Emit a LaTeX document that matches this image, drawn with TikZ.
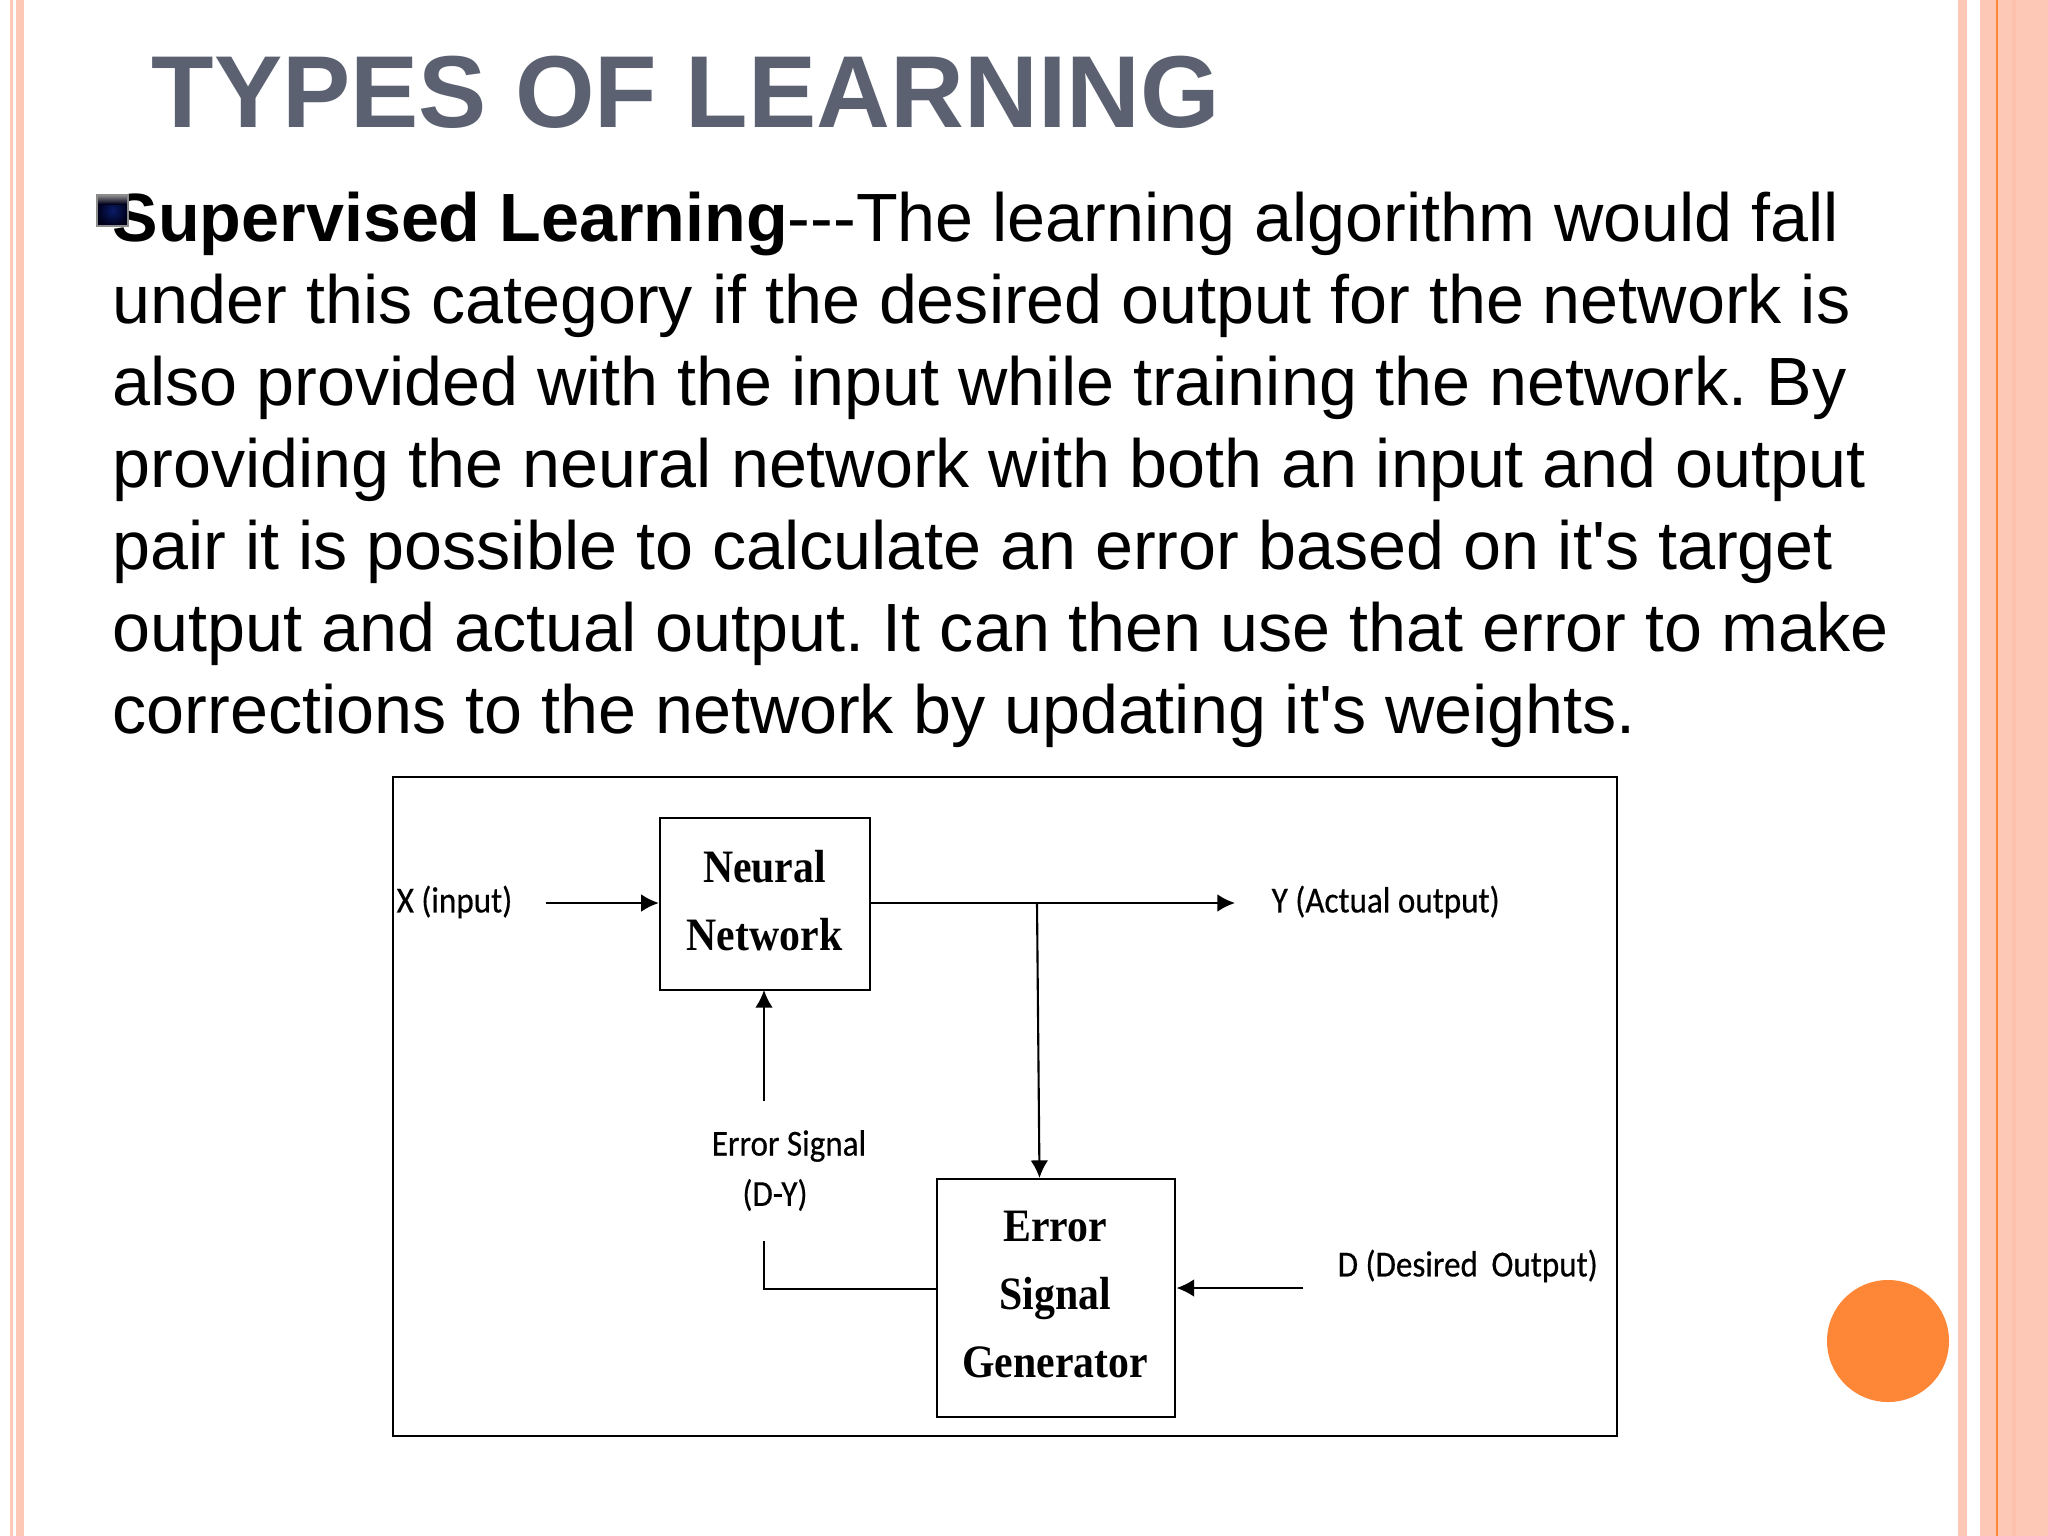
\documentclass[tikz,border=0pt]{standalone}
\usepackage{fontspec}
\setmainfont[Ligatures=TeXOff]{Liberation Sans}
\newfontfamily\labelfont[FakeStretch=0.905,FakeBold=0.5]{Carlito}
\newfontfamily\boxfont[FakeStretch=0.9]{Liberation Serif}
\usetikzlibrary{arrows.meta}
\definecolor{peach}{HTML}{FDC8B6}
\definecolor{peachdark}{HTML}{FCC0AB}
\definecolor{orangeline}{HTML}{FD8637}
\definecolor{titlegray}{HTML}{5B6170}
\definecolor{bulletblue}{HTML}{0A1C66}
\tikzset{
  x=0.01cm,y=-0.01cm,
  bodyline/.style={anchor=base west,inner sep=0pt,font=\frenchspacing\fontsize{19.41}{23}\selectfont,text=black},
  blockbox/.style={draw=black,line width=0.7pt,fill=white,inner sep=0pt},
  blocktext/.style={inner sep=0pt,align=center,font=\boxfont\bfseries\fontsize{13.2}{19.3}\selectfont},
  lab/.style={inner sep=0pt,font=\labelfont\fontsize{10.4}{12}\selectfont,text=black},
  wire/.style={draw=black,line width=0.6pt},
  arrowwire/.style={wire,-{Latex[length=5pt,width=5pt]}},
}
\begin{document}
\begin{tikzpicture}
\useasboundingbox (0,0) rectangle (2048,1536);
\fill[white] (0,0) rectangle (2048,1536);
% side stripes
\fill[peach] (10,0) rectangle (13,1536);
\fill[peach] (16,0) rectangle (24,1536);
\fill[peach] (1958,0) rectangle (1967,1536);
\fill[peach] (1980,0) rectangle (2048,1536);
\fill[peachdark] (2012,0) rectangle (2016,1536);
\fill[orangeline] (1996,0) rectangle (1998,1536);
\fill[orangeline] (1888,1341) circle (61);
% title
\node[anchor=base west,inner sep=0pt,font=\bfseries\fontsize{29.08}{34}\selectfont,text=titlegray] (title) at (151,127) {TYPES OF LEARNING};
% body
\node[bodyline] (l1) at (112,241) {\textbf{Supervised Learning}---The learning algorithm would fall};
\node[bodyline] (l2) at (112,323) {under this category if the desired output for the network is};
\node[bodyline] (l3) at (112,405) {also provided with the input while training the network. By};
\node[bodyline] (l4) at (112,487) {providing the neural network with both an input and output};
\node[bodyline] (l5) at (112,569) {pair it is possible to calculate an error based on it's target};
\node[bodyline] (l6) at (112,651) {output and actual output. It can then use that error to make};
\node[bodyline] (l7) at (112,733) {corrections to the network by updating it's weights.};
% bullet
\shade[inner color=bulletblue,outer color=black!90!blue] (97,195) rectangle (128,226);
\shade[top color=black!45,bottom color=black!90!blue] (97,195) rectangle (128,204);
\draw[black!45,line width=0.3pt] (97,195) rectangle (128,226);
% diagram frame
\node[blockbox,minimum width=348.2pt,minimum height=187.4pt] (frame) at (1005,1106.5) {};
% blocks
\node[blockbox,minimum width=59.7pt,minimum height=48.9pt] (nn) at (765,904) {};
\node[blocktext] (nntext) at (764.5,901) {Neural\\Network};
\node[blockbox,minimum width=67.8pt,minimum height=67.6pt] (esg) at (1056,1298) {};
\node[blocktext] (esgtext) at (1055,1294.5) {Error\\Signal\\Generator};
% labels
\node[lab,anchor=west] (xin) at (396,902) {X (input)};
\node[lab,anchor=west] (yout) at (1271,902) {Y (Actual output)};
\node[lab] (errsig) at (789,1146) {Error Signal};
\node[lab] (dy) at (775,1195) {(D-Y)};
\node[lab,anchor=west] (dout) at (1337,1266) {D (Desired\, Output)};
% connectors
\coordinate (xstart) at (546,903);
\coordinate (yend) at (1235,903);
\coordinate (branch) at (1037,903);
\coordinate (esgtop) at (1039.5,1178);
\coordinate (upstart) at (764,1101);
\coordinate (nnbot) at (764,990);
\coordinate (lowstart) at (764,1241);
\coordinate (lowcorner) at (764,1289);
\coordinate (dstart) at (1303,1288);
\draw[arrowwire] (xstart) -- (nn.west |- xstart);
\draw[arrowwire] (nn.east |- yend) -- (yend);
\draw[arrowwire] (branch) -- (esgtop);
\draw[arrowwire] (upstart) -- (nnbot);
\draw[wire] (lowstart) -- (lowcorner) -- (esg.west |- lowcorner);
\draw[arrowwire] (dstart) -- (esg.east |- dstart);
\end{tikzpicture}
\end{document}
